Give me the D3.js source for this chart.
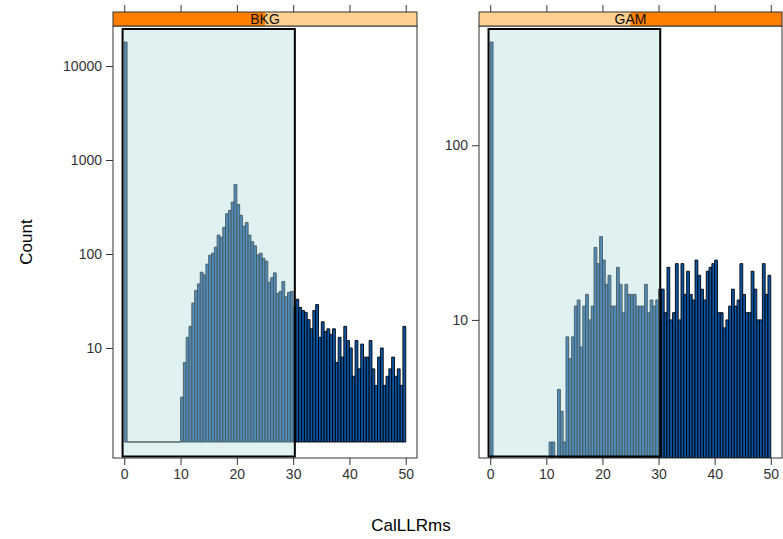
<!DOCTYPE html>
<html>
<head>
<meta charset="utf-8">
<script src="https://cdn.jsdelivr.net/npm/d3@7"></script>
<style>
  body { margin: 0; background: #fff; }
  text { font-family: "Liberation Sans", Arial, sans-serif; }
</style>
</head>
<body>
<div id="chart"></div>
<script>
// histogram bins of width 0.5, from 0 to 50
const binWidth = 0.5;
const binStarts = d3.range(0, 50, binWidth);

const panelNames = ["BKG", "GAM"];

// counts per bin
const countsBKG = [18000,
  1, 1, 1, 1, 1, 1, 1, 1, 1, 1, 1, 1, 1, 1, 1, 1, 1, 1, 1,
  3, 7, 13, 17, 30, 41, 48, 64, 60, 78, 97, 102, 118, 159, 151, 192, 268, 291, 357, 550,
  337, 258, 198, 216, 159, 135, 122, 98, 102, 90, 84, 50, 56, 63, 38, 40, 51, 35, 39, 40,
  27, 33, 27, 25, 24, 20, 16, 25, 29, 13, 19, 15, 16, 14, 16, 7, 13, 8, 17, 12,
  10, 5, 12, 6, 11, 8, 8, 12, 6, 4, 8, 10, 4, 5, 6, 8, 5, 6, 4, 17];

const countsGAM = [390,
  0, 0, 0, 0, 0, 0, 0, 0, 0, 0, 0, 0, 0, 0, 0, 0, 0, 0, 0, 0,
  2, 2, 0, 4, 3, 2, 8, 6, 8, 12, 13, 7, 12, 14, 10, 12, 26, 21, 30, 22,
  16, 18, 12, 12, 20, 16, 11, 16, 14, 14, 14, 12, 12, 12, 16, 11, 13, 12, 13,
  15, 15, 11, 20, 10, 11, 21, 10, 21, 14, 19, 14, 13, 22, 18, 15, 13, 19, 20, 21,
  22, 11, 11, 9, 10, 12, 15, 12, 13, 21, 14, 11, 11, 19, 15, 10, 10, 21, 14, 18];

const xTicks = [0, 10, 20, 30, 40, 50];
const yTicksBKG = [10, 100, 1000, 10000];
const yTicksGAM = [10, 100];

// shaded selection window on CalLLRms
const windowRange = [-0.3, 30.3];

const W = 783, H = 539;
const panelTop = 26, panelBottom = 458, stripH = 14;

const panels = [
  { name: panelNames[0], counts: countsBKG, yTicks: yTicksBKG, x0: 113, x1: 417, idx: 0 },
  { name: panelNames[1], counts: countsGAM, yTicks: yTicksGAM, x0: 479, x1: 782, idx: 1 }
];

const svg = d3.select("#chart").append("svg")
  .attr("width", W)
  .attr("height", H);

panels.forEach(p => {
  const bins = binStarts.map((s, i) => ({ x: s, n: p.counts[i] }));

  // lattice style: pad the range by 4%
  const xs = d3.scaleLinear().domain([-2, 52]).range([p.x0, p.x1]);
  const logs = bins.filter(d => d.n > 0).map(d => Math.log10(d.n));
  const lo = d3.min(logs), hi = d3.max(logs), pad = (hi - lo) * 0.04;
  const ys = d3.scaleLog().domain([10 ** (lo - pad), 10 ** (hi + pad)]).range([panelBottom, panelTop]);
  const base = Math.min(ys(1), panelBottom);

  const g = svg.append("g");

  g.append("clipPath").attr("id", "clip" + p.idx)
    .append("rect")
      .attr("x", p.x0).attr("y", panelTop)
      .attr("width", p.x1 - p.x0).attr("height", panelBottom - panelTop);

  const inner = g.append("g").attr("clip-path", "url(#clip" + p.idx + ")");

  // bars as closed paths so that a count of 1 (zero height) still shows its outline
  inner.selectAll("path.bar")
    .data(bins.filter(d => d.n > 0))
    .join("path")
      .attr("class", "bar")
      .attr("d", d => {
        const a = xs(d.x), b = xs(d.x + binWidth), t = Math.min(ys(d.n), base);
        return "M" + a + "," + base + "V" + t + "H" + b + "V" + base + "Z";
      })
      .attr("fill", "#0b55a8")
      .attr("stroke", "#000")
      .attr("stroke-width", 0.9);

  // translucent window drawn on top of the bars
  inner.append("rect")
    .attr("x", xs(windowRange[0]))
    .attr("y", panelTop + 3)
    .attr("width", xs(windowRange[1]) - xs(windowRange[0]))
    .attr("height", panelBottom - panelTop - 4.5)
    .attr("fill", "rgb(180,221,221)")
    .attr("fill-opacity", 0.41)
    .attr("stroke", "#000")
    .attr("stroke-width", 2);

  // panel border
  g.append("rect")
    .attr("x", p.x0).attr("y", panelTop)
    .attr("width", p.x1 - p.x0).attr("height", panelBottom - panelTop)
    .attr("fill", "none")
    .attr("stroke", "#333")
    .attr("stroke-width", 1);

  // strip
  const sy = panelTop - stripH;
  g.append("rect")
    .attr("x", p.x0).attr("y", sy)
    .attr("width", p.x1 - p.x0).attr("height", stripH)
    .attr("fill", "#ffd08e");
  const half = (p.x1 - p.x0) / 2;
  g.append("rect")
    .attr("x", p.x0 + p.idx * half).attr("y", sy)
    .attr("width", half).attr("height", stripH)
    .attr("fill", "#ff7f00");
  g.append("rect")
    .attr("x", p.x0).attr("y", sy)
    .attr("width", p.x1 - p.x0).attr("height", stripH)
    .attr("fill", "none")
    .attr("stroke", "#333");
  g.append("text")
    .attr("x", (p.x0 + p.x1) / 2)
    .attr("y", sy + 12)
    .attr("text-anchor", "middle")
    .attr("font-size", "14px")
    .attr("fill", "#111")
    .text(p.name);

  // bottom axis
  const xAxis = g.append("g")
    .attr("transform", "translate(0," + panelBottom + ")")
    .call(d3.axisBottom(xs).tickValues(xTicks).tickSize(7).tickPadding(4).tickSizeOuter(0));
  xAxis.select(".domain").remove();
  xAxis.selectAll("text").attr("font-size", "14px").attr("fill", "#333").attr("font-family", null);
  xAxis.selectAll("line").attr("stroke", "#333");

  // ticks on top of strip, no labels
  const topAxis = g.append("g")
    .attr("transform", "translate(0," + sy + ")")
    .call(d3.axisTop(xs).tickValues(xTicks).tickSize(7).tickFormat("").tickSizeOuter(0));
  topAxis.select(".domain").remove();
  topAxis.selectAll("line").attr("stroke", "#333");

  // left axis
  const yAxis = g.append("g")
    .attr("transform", "translate(" + p.x0 + ",0)")
    .call(d3.axisLeft(ys).tickValues(p.yTicks).tickFormat(d3.format("d")).tickSize(7).tickPadding(4).tickSizeOuter(0));
  yAxis.select(".domain").remove();
  yAxis.selectAll("text").attr("font-size", "14px").attr("fill", "#333").attr("font-family", null);
  yAxis.selectAll("line").attr("stroke", "#333");
});

svg.append("text")
  .attr("transform", "translate(32," + (panelTop + panelBottom) / 2 + ") rotate(-90)")
  .attr("text-anchor", "middle")
  .attr("font-size", "17px")
  .attr("fill", "#000")
  .text("Count");

svg.append("text")
  .attr("x", 411)
  .attr("y", 531)
  .attr("text-anchor", "middle")
  .attr("font-size", "17px")
  .attr("fill", "#000")
  .text("CalLLRms");
</script>
</body>
</html>
